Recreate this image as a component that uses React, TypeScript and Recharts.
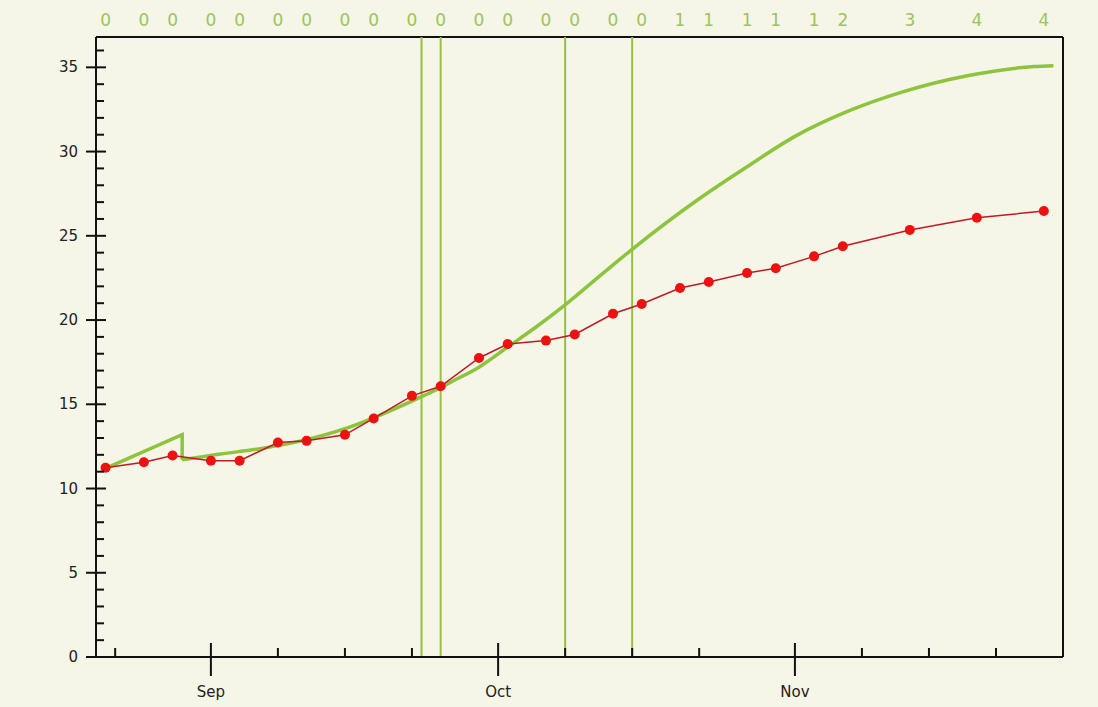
import { LineChart, Line, XAxis, YAxis, ReferenceLine } from 'recharts';

// days counted from 1 Sep
const redDays = [-11, -7, -4, 0, 3, 7, 10, 14, 17, 21, 24, 28, 31, 35, 38, 42, 45, 49, 52, 56, 59, 63, 66, 73, 80, 87];
const redValues = [11.23, 11.56, 11.96, 11.65, 11.65, 12.73, 12.83, 13.19, 14.16, 15.5, 16.07, 17.75, 18.58, 18.78, 19.14, 20.37, 20.95, 21.9, 22.26, 22.79, 23.07, 23.78, 24.38, 25.35, 26.07, 26.47];
const topCounts = [0, 0, 0, 0, 0, 0, 0, 0, 0, 0, 0, 0, 0, 0, 0, 0, 0, 1, 1, 1, 1, 1, 2, 3, 4, 4];

// green curve: short run-up, sudden drop, then the smooth part
const greenStartDays = [-11, -3, -3];
const greenStartValues = [11.2, 13.2, 11.7];
const greenDays = [-3, 1, 5, 10, 14, 17, 22, 24, 25, 28, 31, 34, 37, 41, 44, 51, 56, 61, 67, 72, 79, 86, 88];
const greenValues = [11.7, 12.05, 12.35, 12.9, 13.55, 14.2, 15.45, 16.0, 16.3, 17.2, 18.4, 19.6, 20.9, 22.8, 24.2, 27.2, 29.1, 30.9, 32.5, 33.5, 34.5, 35.05, 35.1];

const markerDays = [22, 24, 37, 44];

const monthTicks = [0, 30, 61];
const monthLabels = ['Sep', 'Oct', 'Nov'];
const minorDayTicks = [-10, 7, 14, 21, 37, 44, 51, 68, 75, 82];

const X_MIN = -12;
const X_MAX = 89;
const Y_MAX = 36.8;

const redData = redDays.map((day, i) => ({ day, value: redValues[i] }));
const greenStart = greenStartDays.map((day, i) => ({ day, value: greenStartValues[i] }));
const greenData = greenDays.map((day, i) => ({ day, value: greenValues[i] }));
const xTicks = [...minorDayTicks, ...monthTicks].sort((a, b) => a - b);
const yTicks = Array.from({ length: 37 }, (_, i) => i);

const FONT = '"DejaVu Sans", Verdana, sans-serif';
const GREEN = '#8cc43c';

const BottomTick = (props: any) => {
  const { x, y, payload } = props;
  const mi = monthTicks.indexOf(payload.value);
  if (mi >= 0) {
    return (
      <g>
        <line x1={x} x2={x} y1={y - 14} y2={y + 19} stroke="#111" strokeWidth={2} />
        <text x={x} y={y + 40} textAnchor="middle" fontSize={15} fontFamily={FONT} fill="#222">
          {monthLabels[mi]}
        </text>
      </g>
    );
  }
  return <line x1={x} x2={x} y1={y - 9} y2={y} stroke="#111" strokeWidth={2} />;
};

const LeftTick = (props: any) => {
  const { x, y, payload } = props;
  const v = payload.value;
  if (v % 5 === 0) {
    return (
      <g>
        <line x1={x - 10} x2={x + 10} y1={y} y2={y} stroke="#111" strokeWidth={2} />
        <text x={x - 18} y={y + 5} textAnchor="end" fontSize={15} fontFamily={FONT} fill="#222">
          {v}
        </text>
      </g>
    );
  }
  return <line x1={x} x2={x + 8} y1={y} y2={y} stroke="#111" strokeWidth={2} />;
};

const TopTick = (props: any) => {
  const { x, y, index } = props;
  return (
    <text x={x} y={y - 3} textAnchor="middle" fontSize={17} fontFamily={FONT} fill="#9cc45c">
      {topCounts[index]}
    </text>
  );
};

export default function App() {
  return (
    <div style={{ position: 'absolute', left: 0, top: 0, width: 1098, height: 707, background: '#f5f5e8' }}>
      <LineChart width={1098} height={707} margin={{ top: 7, right: 35, bottom: 0, left: 0 }}>
        <XAxis
          xAxisId="top"
          orientation="top"
          type="number"
          dataKey="day"
          domain={[X_MIN, X_MAX]}
          ticks={redDays}
          interval={0}
          allowDataOverflow
          axisLine={false}
          tickLine={false}
          tickSize={6}
          tickMargin={2}
          height={30}
          tick={<TopTick />}
        />
        <XAxis
          type="number"
          dataKey="day"
          domain={[X_MIN, X_MAX]}
          ticks={xTicks}
          interval={0}
          allowDataOverflow
          axisLine={{ stroke: '#111', strokeWidth: 2 }}
          tickLine={false}
          tickSize={0}
          tickMargin={0}
          height={50}
          tick={<BottomTick />}
        />
        <YAxis
          type="number"
          domain={[0, Y_MAX]}
          ticks={yTicks}
          interval={0}
          allowDataOverflow
          axisLine={{ stroke: '#111', strokeWidth: 2 }}
          tickLine={false}
          tickSize={0}
          tickMargin={0}
          width={96}
          tick={<LeftTick />}
        />
        <ReferenceLine y={Y_MAX} stroke="#111" strokeWidth={2} />
        <ReferenceLine x={X_MAX} stroke="#111" strokeWidth={2} />
        {markerDays.map((d) => (
          <ReferenceLine key={d} x={d} stroke="#98c040" strokeWidth={2} />
        ))}
        <Line
          data={greenStart}
          dataKey="value"
          type="linear"
          stroke={GREEN}
          strokeWidth={3.5}
          dot={false}
          isAnimationActive={false}
        />
        <Line
          data={greenData}
          dataKey="value"
          type="monotone"
          stroke={GREEN}
          strokeWidth={3.5}
          dot={false}
          isAnimationActive={false}
        />
        <Line
          data={redData}
          dataKey="value"
          type="linear"
          stroke="#c01a24"
          strokeWidth={1.5}
          dot={{ r: 5, fill: '#ee1111', stroke: 'none' }}
          isAnimationActive={false}
        />
      </LineChart>
    </div>
  );
}
